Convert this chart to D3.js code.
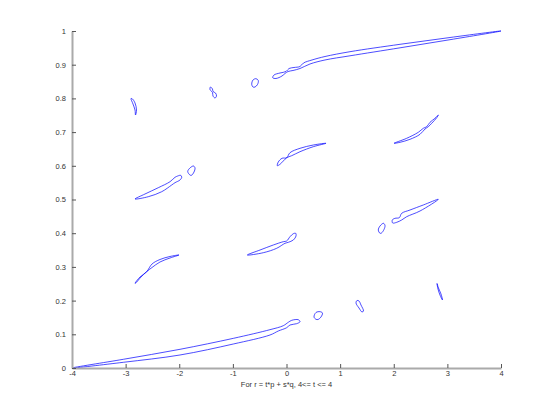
<!DOCTYPE html>
<html>
<head>
<meta charset="utf-8">
<script src="https://d3js.org/d3.v7.min.js"></script>
<style>
	body { margin: 0; background: #fff; }
	text { font-family: "Liberation Sans", Arial, sans-serif; }
</style>
</head>
<body>
<script>
/* closed level curves as [t, s] pairs */

var xTicks = [-4, -3, -2, -1, 0, 1, 2, 3, 4];
var yTicks = [0, 0.1, 0.2, 0.3, 0.4, 0.5, 0.6, 0.7, 0.8, 0.9, 1];
var xLabel = "For r = t*p + s*q, 4<= t <= 4";

var bottomArc = [[-4, 0], [-3.043, 0.0258], [-1.986, 0.0555], [-0.992, 0.088], [-0.308, 0.1137],
	[-0.060, 0.1255], [0.033, 0.1356], [0.097, 0.1415], [0.220, 0.1433], [0.252, 0.1374],
	[0.190, 0.1315], [0.065, 0.1276], [0.004, 0.1196], [-0.153, 0.1098], [-0.308, 0.0979],
	[-0.992, 0.0712], [-1.986, 0.0386], [-3.043, 0.0169]];

var topArc = [[-0.257, 0.8614], [-0.233, 0.8694], [-0.121, 0.8754], [-0.009, 0.8798], [0.047, 0.8887],
	[0.140, 0.8917], [0.252, 0.8947], [0.317, 0.905], [0.476, 0.914], [0.718, 0.9243],
	[1.184, 0.9386], [2.117, 0.9605], [3.049, 0.9807], [4, 1], [3.049, 0.9742],
	[2.117, 0.9501], [1.184, 0.9264], [0.718, 0.914], [0.438, 0.9021], [0.252, 0.8887],
	[0.121, 0.8828], [0.028, 0.8798], [-0.028, 0.8739], [-0.084, 0.8665], [-0.196, 0.8591]];

var blobLow1 = [[0.550, 0.1445], [0.513, 0.1513], [0.550, 0.1647], [0.625, 0.1671],
	[0.671, 0.1632], [0.643, 0.1513], [0.587, 0.1439]];
var blobLow2 = [[1.315, 0.2003], [1.296, 0.1929], [1.352, 0.178], [1.408, 0.1662],
	[1.436, 0.1691], [1.389, 0.1869], [1.352, 0.1988]];
var sliverLow = [[2.807, 0.2507], [2.825, 0.2344], [2.862, 0.2166], [2.909, 0.2018],
	[2.881, 0.2196], [2.834, 0.2374]];

var leafA = [[-2.825, 0.2513], [-2.732, 0.270], [-2.607, 0.2858], [-2.508, 0.3086], [-2.359, 0.322],
	[-2.1725, 0.3309], [-2.005, 0.3353], [-2.1725, 0.3264], [-2.359, 0.3145], [-2.508, 0.2982],
	[-2.607, 0.2858], [-2.713, 0.270], [-2.807, 0.2528]];
var leafB = [[-0.731, 0.3353], [-0.494, 0.3501], [-0.246, 0.365], [-0.060, 0.3748], [0.004, 0.3769],
	[0.065, 0.3896], [0.127, 0.3985], [0.172, 0.3997], [0.177, 0.3917], [0.127, 0.3798],
	[0.034, 0.373], [-0.028, 0.370], [-0.183, 0.3552], [-0.433, 0.3421]];
var blobMid1 = [[1.744, 0.3997], [1.712, 0.4095], [1.744, 0.4214], [1.809, 0.4294],
	[1.837, 0.4228], [1.818, 0.411], [1.772, 0.4006]];
var leafC = [[2.831, 0.5006], [2.551, 0.4837], [2.303, 0.4688], [2.148, 0.459], [2.103, 0.446],
	[2.023, 0.4442], [1.973, 0.4392], [1.980, 0.4303], [2.055, 0.4323], [2.148, 0.4392],
	[2.241, 0.449], [2.490, 0.4659]];

var leafD = [[-2.825, 0.5015], [-2.639, 0.5163], [-2.391, 0.535], [-2.1725, 0.5528], [-2.079, 0.5659],
	[-2.029, 0.5697], [-1.973, 0.5718], [-1.954, 0.5659], [-1.986, 0.5579], [-2.079, 0.5499],
	[-2.141, 0.543], [-2.327, 0.5231], [-2.577, 0.5083]];
var blobMid2 = [[-1.80, 0.5727], [-1.842, 0.5831], [-1.80, 0.5935], [-1.734, 0.5994],
	[-1.706, 0.5935], [-1.725, 0.5816], [-1.772, 0.5718]];
var leafE = [[0.737, 0.6668], [0.5, 0.6617], [0.252, 0.6519], [0.065, 0.6389], [0.004, 0.624],
	[-0.084, 0.6223], [-0.153, 0.6113], [-0.172, 0.6003], [-0.121, 0.6045], [-0.060, 0.6142],
	[0.004, 0.624], [0.097, 0.63], [0.252, 0.6418], [0.5, 0.6567]];
var leafF = [[2.005, 0.6668], [2.241, 0.6816], [2.458, 0.6994], [2.551, 0.7113], [2.614, 0.716],
	[2.676, 0.7291], [2.769, 0.7409], [2.831, 0.7507], [2.801, 0.7427], [2.708, 0.7261],
	[2.644, 0.716], [2.583, 0.7092], [2.490, 0.6935], [2.303, 0.6786], [2.117, 0.6697]];

var sliverHigh = [[-2.9, 0.7997], [-2.8625, 0.7834], [-2.825, 0.7656], [-2.816, 0.7507],
	[-2.797, 0.7656], [-2.825, 0.7864], [-2.872, 0.7982]];
var blobHigh2 = [[-1.417, 0.8338], [-1.38, 0.8279], [-1.371, 0.8205], [-1.324, 0.816], [-1.305, 0.8071],
	[-1.333, 0.8012], [-1.371, 0.8071], [-1.38, 0.8175], [-1.427, 0.8264]];
var blobHigh1 = [[-0.625, 0.8338], [-0.649, 0.8427], [-0.625, 0.8546], [-0.569, 0.8585],
	[-0.526, 0.8531], [-0.541, 0.8412], [-0.587, 0.8338]];

var curves = [bottomArc, topArc, blobLow1, blobLow2, sliverLow, leafA, leafB, blobMid1,
	leafC, leafD, blobMid2, leafE, leafF, sliverHigh, blobHigh2, blobHigh1];

window.onload = function() {
	makePlot();
};

function makePlot() {

	var w = 554
	var h = 414

	var xScale = d3.scaleLinear()
	               .domain([-4, 4])
	               .range([72, 501]);

	var yScale = d3.scaleLinear()
	               .domain([0, 1])
	               .range([368, 31]);

	var svg = d3.select("body")
	            .append("svg")
	            .attr("width", w)
	            .attr("height", h)

	// draw the curves
	var line = d3.line()
	             .x(function(d) {return xScale(d[0])})
	             .y(function(d) {return yScale(d[1])})
	             .curve(d3.curveCatmullRomClosed.alpha(0.5))

	svg.selectAll(".curve")
	   .data(curves)
	   .enter()
	   .append("path")
	   .attr("class", "curve")
	   .attr("d", line)
	   .attr("fill", "none")
	   .attr("stroke", "#0000ff")
	   .attr("stroke-width", 0.7)

	// x axis, ticks pointing up
	var xAxis = svg.append("g")
	               .attr("transform", "translate(0," + yScale(0) + ")")
	               .call(d3.axisBottom(xScale)
	                       .tickValues(xTicks)
	                       .tickSizeInner(-4)
	                       .tickSizeOuter(0)
	                       .tickPadding(3)
	                       .tickFormat(function(d) {return String(d)}))

	// y axis, ticks pointing right
	var yAxis = svg.append("g")
	               .attr("transform", "translate(" + xScale(-4) + ",0)")
	               .call(d3.axisLeft(yScale)
	                       .tickValues(yTicks)
	                       .tickSizeInner(-4)
	                       .tickSizeOuter(0)
	                       .tickPadding(6)
	                       .tickFormat(function(d) {return String(d)}))

	svg.selectAll(".domain")
	   .attr("stroke", "#aaa")
	   .attr("stroke-width", 2)

	svg.selectAll(".tick line")
	   .attr("stroke", "#555")

	svg.selectAll(".tick text")
	   .attr("fill", "#333")
	   .style("font-size", "7.5px")

	// x axis label
	svg.append("text")
	   .attr("x", (xScale(-4) + xScale(4)) / 2)
	   .attr("y", 387)
	   .style("text-anchor", "middle")
	   .style("font-size", "7.5px")
	   .attr("fill", "#333")
	   .text(xLabel)
}
</script>
</body>
</html>
